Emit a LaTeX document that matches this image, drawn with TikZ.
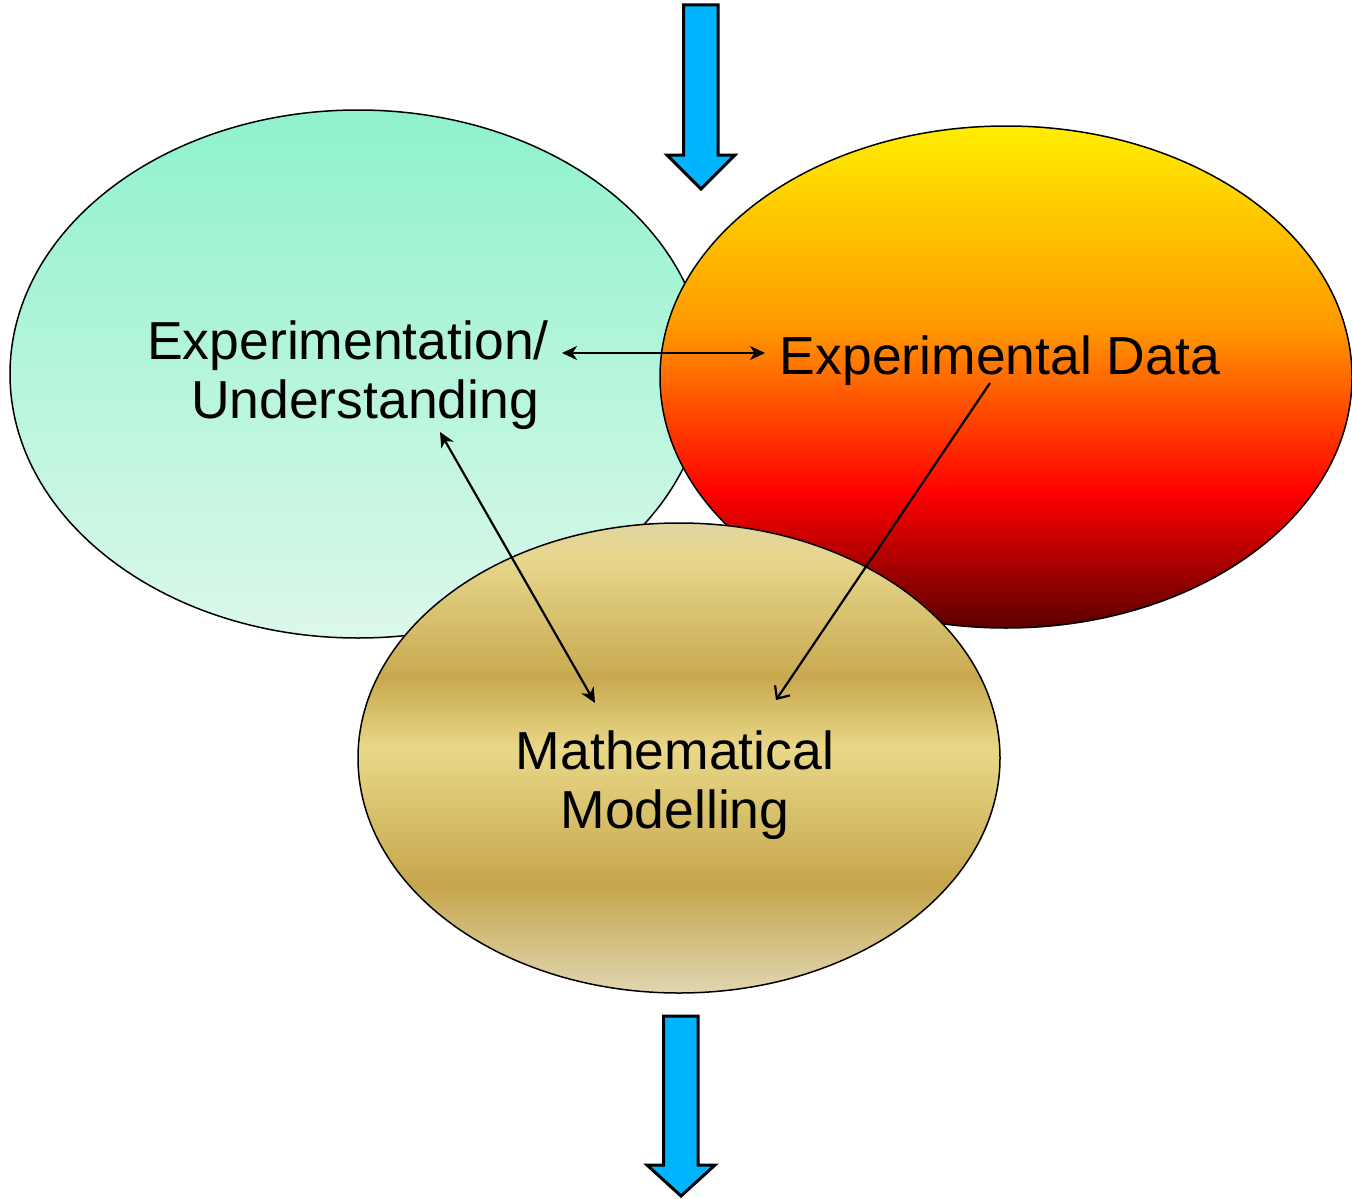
\documentclass[tikz,border=0pt]{standalone}
\usepackage{fontspec}
\setmainfont{Liberation Sans}
\usetikzlibrary{shapes.geometric,arrows.meta}

% palette
\definecolor{minthi}{HTML}{8FF2CC}
\definecolor{mintlo}{HTML}{DCF8EA}
\definecolor{fireA}{HTML}{FFEE00}
\definecolor{fireB}{HTML}{FF9900}
\definecolor{fireC}{HTML}{FF0000}
\definecolor{fireD}{HTML}{5C0000}
\definecolor{goldA}{HTML}{E3D5A0}
\definecolor{goldB}{HTML}{E6D68C}
\definecolor{goldC}{HTML}{C8A94F}
\definecolor{goldD}{HTML}{E8D888}
\definecolor{goldE}{HTML}{C6A64C}
\definecolor{goldF}{HTML}{E0D6B0}
\definecolor{flowblue}{HTML}{00B4FF}

% vertical fills: the shape spans 25bp (bottom) to 75bp (top)
\pgfdeclareverticalshading{mintfade}{100bp}{%
  color(0bp)=(mintlo); color(25bp)=(mintlo);
  color(75bp)=(minthi); color(100bp)=(minthi)}
\pgfdeclareverticalshading{firefade}{100bp}{%
  color(0bp)=(fireD); color(25bp)=(fireD); color(38.5bp)=(fireC);
  color(55bp)=(fireB); color(75bp)=(fireA); color(100bp)=(fireA)}
\pgfdeclareverticalshading{goldbands}{100bp}{%
  color(0bp)=(goldF); color(25bp)=(goldF); color(36.5bp)=(goldE);
  color(51bp)=(goldD); color(58.5bp)=(goldC); color(71bp)=(goldB);
  color(75bp)=(goldA); color(100bp)=(goldA)}

\tikzset{
  blob/.style={ellipse, draw=black, line width=1.5pt, inner sep=0pt},
  lbl/.style={inner sep=0pt, align=center, font=\fontsize{53.5}{59}\selectfont},
  link/.style={line width=2.2pt},
  tipfull/.tip={Stealth[length=15pt,width=14pt,inset=4.5pt]},
  tipopen/.tip={Straight Barb[length=10pt,width=18pt,line width=2.2pt]},
  flow/.style={draw=black, fill=flowblue, line width=3pt, line join=miter}
}

\begin{document}
\begin{tikzpicture}[x=1pt,y=-1pt]
\useasboundingbox (0,0) rectangle (1352,1199);

% three overlapping regions
\node[blob, shading=mintfade, minimum width=696pt, minimum height=528pt]
  (mint) at (358,374) {};
\node[blob, shading=firefade, minimum width=692pt, minimum height=502pt]
  (fire) at (1006,377) {};
\node[blob, shading=goldbands, minimum width=642pt, minimum height=470pt]
  (gold) at (679,758) {};

% labels
\node[lbl] (eu) at (348,375) {Experimentation/\\\hspace*{34pt}Understanding};
\node[lbl] (ed) at (1000,361) {Experimental Data};
\node[lbl] (mm) at (675,785) {Mathematical\\Modelling};

% connector ends
\coordinate (euR) at (562,353);
\coordinate (edL) at (765,353);
\coordinate (euB) at (440,432);
\coordinate (mmL) at (595,703);
\coordinate (edB) at (990,383);
\coordinate (mmR) at (776,700);

\draw[link, tipfull-tipfull] (euR) -- (edL);
\draw[link, tipfull-tipfull] (euB) -- (mmL);
\draw[link, -tipopen] (edB) -- (mmR);

% input and output block arrows
\draw[flow] (683.5,5) -- (718,5) -- (718,155) -- (735,155) -- (701,189)
  -- (667,155) -- (683.5,155) -- cycle;
\draw[flow] (663.5,1016) -- (698,1016) -- (698,1165) -- (715,1165)
  -- (681,1196) -- (647,1165) -- (663.5,1165) -- cycle;
\end{tikzpicture}
\end{document}
